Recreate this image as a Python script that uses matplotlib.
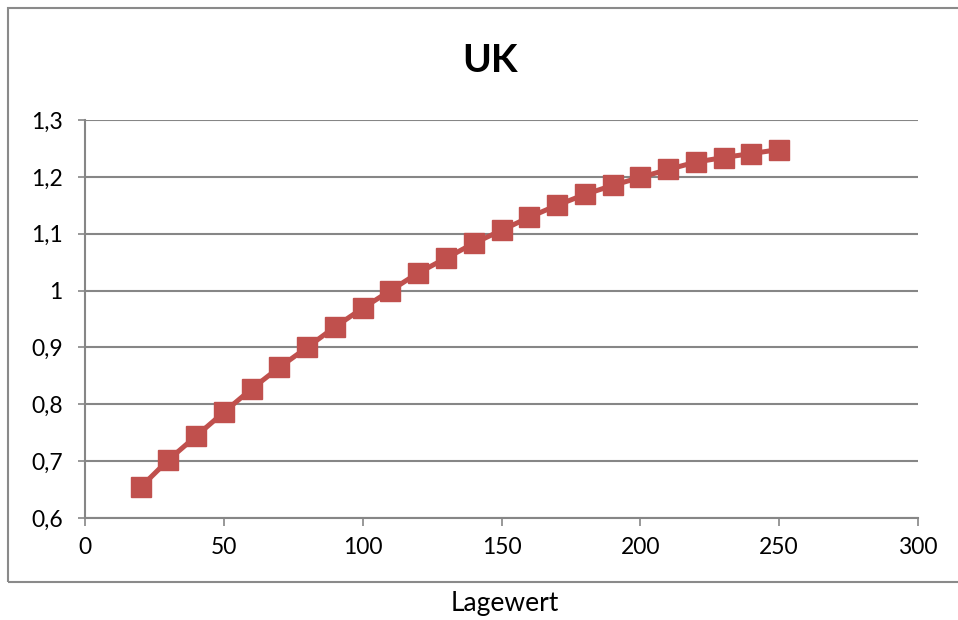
import matplotlib
matplotlib.use("Agg")
import matplotlib.pyplot as plt
from matplotlib.ticker import FixedLocator, FuncFormatter
from matplotlib.patches import Rectangle

# Data: UK factor by Lagewert
lagewert = [20, 30, 40, 50, 60, 70, 80, 90, 100, 110, 120, 130,
            140, 150, 160, 170, 180, 190, 200, 210, 220, 230, 240, 250]
uk = [0.654, 0.702, 0.744, 0.786, 0.827, 0.865, 0.900, 0.936, 0.969, 1.000,
      1.031, 1.057, 1.083, 1.106, 1.129, 1.150, 1.169, 1.185, 1.199, 1.213,
      1.226, 1.234, 1.241, 1.248]

x_ticks = [0, 50, 100, 150, 200, 250, 300]
y_ticks = [0.6, 0.7, 0.8, 0.9, 1.0, 1.1, 1.2, 1.3]

plt.rcParams['font.family'] = ['Lato', 'DejaVu Sans']

W, H = 958, 620
fig = plt.figure(figsize=(W / 100, H / 100), dpi=100)
fig.patch.set_facecolor('white')

# outer chart frame
frame = Rectangle((8 / W, 1 - 582 / H), 1.2, 574 / H, transform=fig.transFigure,
                  fill=False, edgecolor='#8a8a8a', linewidth=1.5, clip_on=False)
fig.add_artist(frame)

ax = fig.add_axes([85 / W, 1 - 518 / H, (918 - 85) / W, (518 - 120) / H])

grid_c = '#868686'
ax.plot(lagewert, uk, color='#C0504D', linewidth=3.6, marker='s',
        markersize=14, markerfacecolor='#C0504D', markeredgecolor='#C0504D',
        zorder=3, clip_on=False)

ax.set_xlim(0, 300)
ax.set_ylim(0.6, 1.3)
ax.xaxis.set_major_locator(FixedLocator(x_ticks))
ax.yaxis.set_major_locator(FixedLocator(y_ticks))
ax.yaxis.set_major_formatter(FuncFormatter(lambda v, p: ('%g' % round(v, 1)).replace('.', ',')))
ax.xaxis.set_major_formatter(FuncFormatter(lambda v, p: '%d' % v))

ax.grid(axis='y', color=grid_c, linewidth=1.5, zorder=1)
ax.set_axisbelow(True)
for s in ['top', 'right']:
    ax.spines[s].set_visible(False)
for s in ['left', 'bottom']:
    ax.spines[s].set_color(grid_c)
    ax.spines[s].set_linewidth(1.5)

ax.tick_params(axis='y', length=5, width=1.2, color=grid_c, pad=11,
               labelsize=16.5, labelcolor='black')
ax.tick_params(axis='x', length=6, width=1.2, color=grid_c, pad=8,
               labelsize=16.5, labelcolor='black')

fig.text(490 / W, 1 - 60 / H, 'UK', ha='center', va='center',
         fontsize=28, fontweight='bold')
fig.text(505 / W, 1 - 604 / H, 'Lagewert', ha='center', va='center',
         fontsize=19)

fig.savefig('out.png', dpi=100, facecolor='white')
